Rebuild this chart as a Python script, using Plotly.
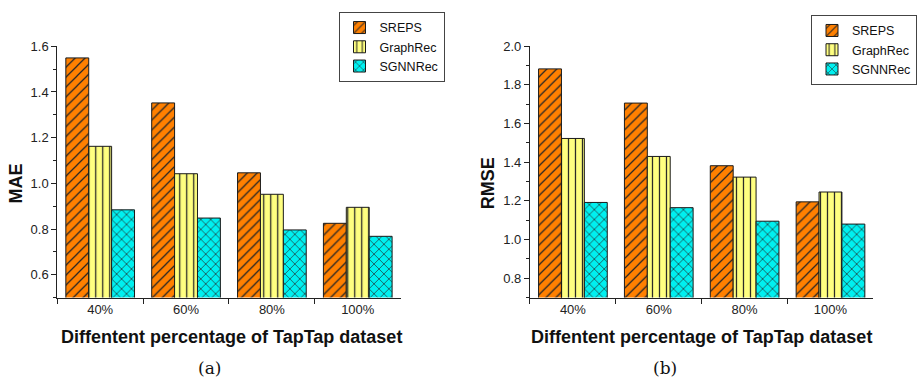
import plotly.graph_objects as go

categories = ["40%", "60%", "80%", "100%"]
series_names = ["SREPS", "GraphRec", "SGNNRec"]
mae_sreps = [1.549, 1.352, 1.046, 0.825]
mae_graphrec = [1.162, 1.042, 0.952, 0.895]
mae_sgnnrec = [0.884, 0.848, 0.796, 0.768]
rmse_sreps = [1.883, 1.706, 1.382, 1.195]
rmse_graphrec = [1.523, 1.430, 1.323, 1.246]
rmse_sgnnrec = [1.192, 1.165, 1.095, 1.080]

colors = ["#FF8000", "#FFFF80", "#00F0F0"]
shapes = ["/", "|", "x"]
W, H = 917, 380

fig = go.Figure()

def add_panel(vals_list, xa, ya, legend, show):
    for name, vals, c, s in zip(series_names, vals_list, colors, shapes):
        fig.add_trace(go.Bar(
            x=categories, y=vals, name=name, xaxis=xa, yaxis=ya,
            legend=legend, showlegend=show,
            marker=dict(color=c, line=dict(color="#1a1a1a", width=1),
                        pattern=dict(shape=s, fgcolor="#262626", bgcolor=c,
                                     size=7, solidity=0.18, fillmode="replace")),
        ))

add_panel([mae_sreps, mae_graphrec, mae_sgnnrec], "x", "y", "legend", True)
add_panel([rmse_sreps, rmse_graphrec, rmse_sgnnrec], "x2", "y2", "legend2", True)

tickfont = dict(family="Liberation Sans, Arial", size=13, color="#222")
ydom = [(H - 296) / H, (H - 40) / H]
common_x = dict(showline=True, linecolor="#222", linewidth=1, ticks="outside",
                tickson="boundaries", ticklen=5, tickcolor="#222",
                tickfont=tickfont, showgrid=False, zeroline=False)
common_y = dict(showline=True, linecolor="#222", linewidth=1, ticks="outside",
                ticklen=5, tickcolor="#222", dtick=0.2, tickformat=".1f",
                tickfont=tickfont, showgrid=False, zeroline=False,
                minor=dict(ticks="outside", ticklen=3, dtick=0.1, tickcolor="#222", showgrid=False))
legfont = dict(family="Liberation Sans, Arial", size=12.5, color="#111")

fig.update_layout(
    width=W, height=H,
    margin=dict(l=0, r=0, t=0, b=0),
    paper_bgcolor="white", plot_bgcolor="white",
    barmode="group", bargap=0.2, bargroupgap=0,
    xaxis=dict(domain=[58 / W, 406 / W], anchor="y", **common_x),
    yaxis=dict(domain=ydom, anchor="x", range=[0.5, 1.6], tick0=0.6, **common_y),
    xaxis2=dict(domain=[537 / W, 885 / W], anchor="y2", **common_x),
    yaxis2=dict(domain=ydom, anchor="x2", range=[0.7, 2.0], tick0=0.8, **common_y),
    legend=dict(x=343 / W, y=(H - 5) / H, xanchor="left", yanchor="top",
                bordercolor="#444", borderwidth=1, bgcolor="white",
                font=legfont, tracegroupgap=0, itemwidth=30),
    legend2=dict(x=822 / W, y=(H - 8) / H, xanchor="left", yanchor="top",
                 bordercolor="#444", borderwidth=1, bgcolor="white",
                 font=legfont, tracegroupgap=0, itemwidth=30),
    showlegend=True,
)

ann_font_bold = dict(family="Liberation Sans, Arial", size=18, color="#111")
for cx, label in [(235, "<b>Diffentent percentage of TapTap dataset</b>"),
                  (711, "<b>Diffentent percentage of TapTap dataset</b>")]:
    fig.add_annotation(x=cx / W, y=(H - 336) / H, xref="paper", yref="paper",
                       text=label, showarrow=False, font=ann_font_bold,
                       xanchor="center", yanchor="middle")
fig.add_annotation(x=16 / W, y=(H - 180) / H, xref="paper", yref="paper",
                   text="<b>MAE</b>", showarrow=False, textangle=-90,
                   font=ann_font_bold, xanchor="center", yanchor="middle")
fig.add_annotation(x=494 / W, y=(H - 180) / H, xref="paper", yref="paper",
                   text="<b>RMSE</b>", showarrow=False, textangle=-90,
                   font=ann_font_bold, xanchor="center", yanchor="middle")
for cx, label in [(212, "(a)"), (674, "(b)")]:
    fig.add_annotation(x=cx / W, y=(H - 368) / H, xref="paper", yref="paper",
                       text=label, showarrow=False,
                       font=dict(family="DejaVu Serif, serif", size=17, color="#111"),
                       xanchor="center", yanchor="middle")

fig.write_html("out.html", config={"displayModeBar": False},
               post_script="document.body.style.margin='0';document.body.style.overflow='hidden';")
